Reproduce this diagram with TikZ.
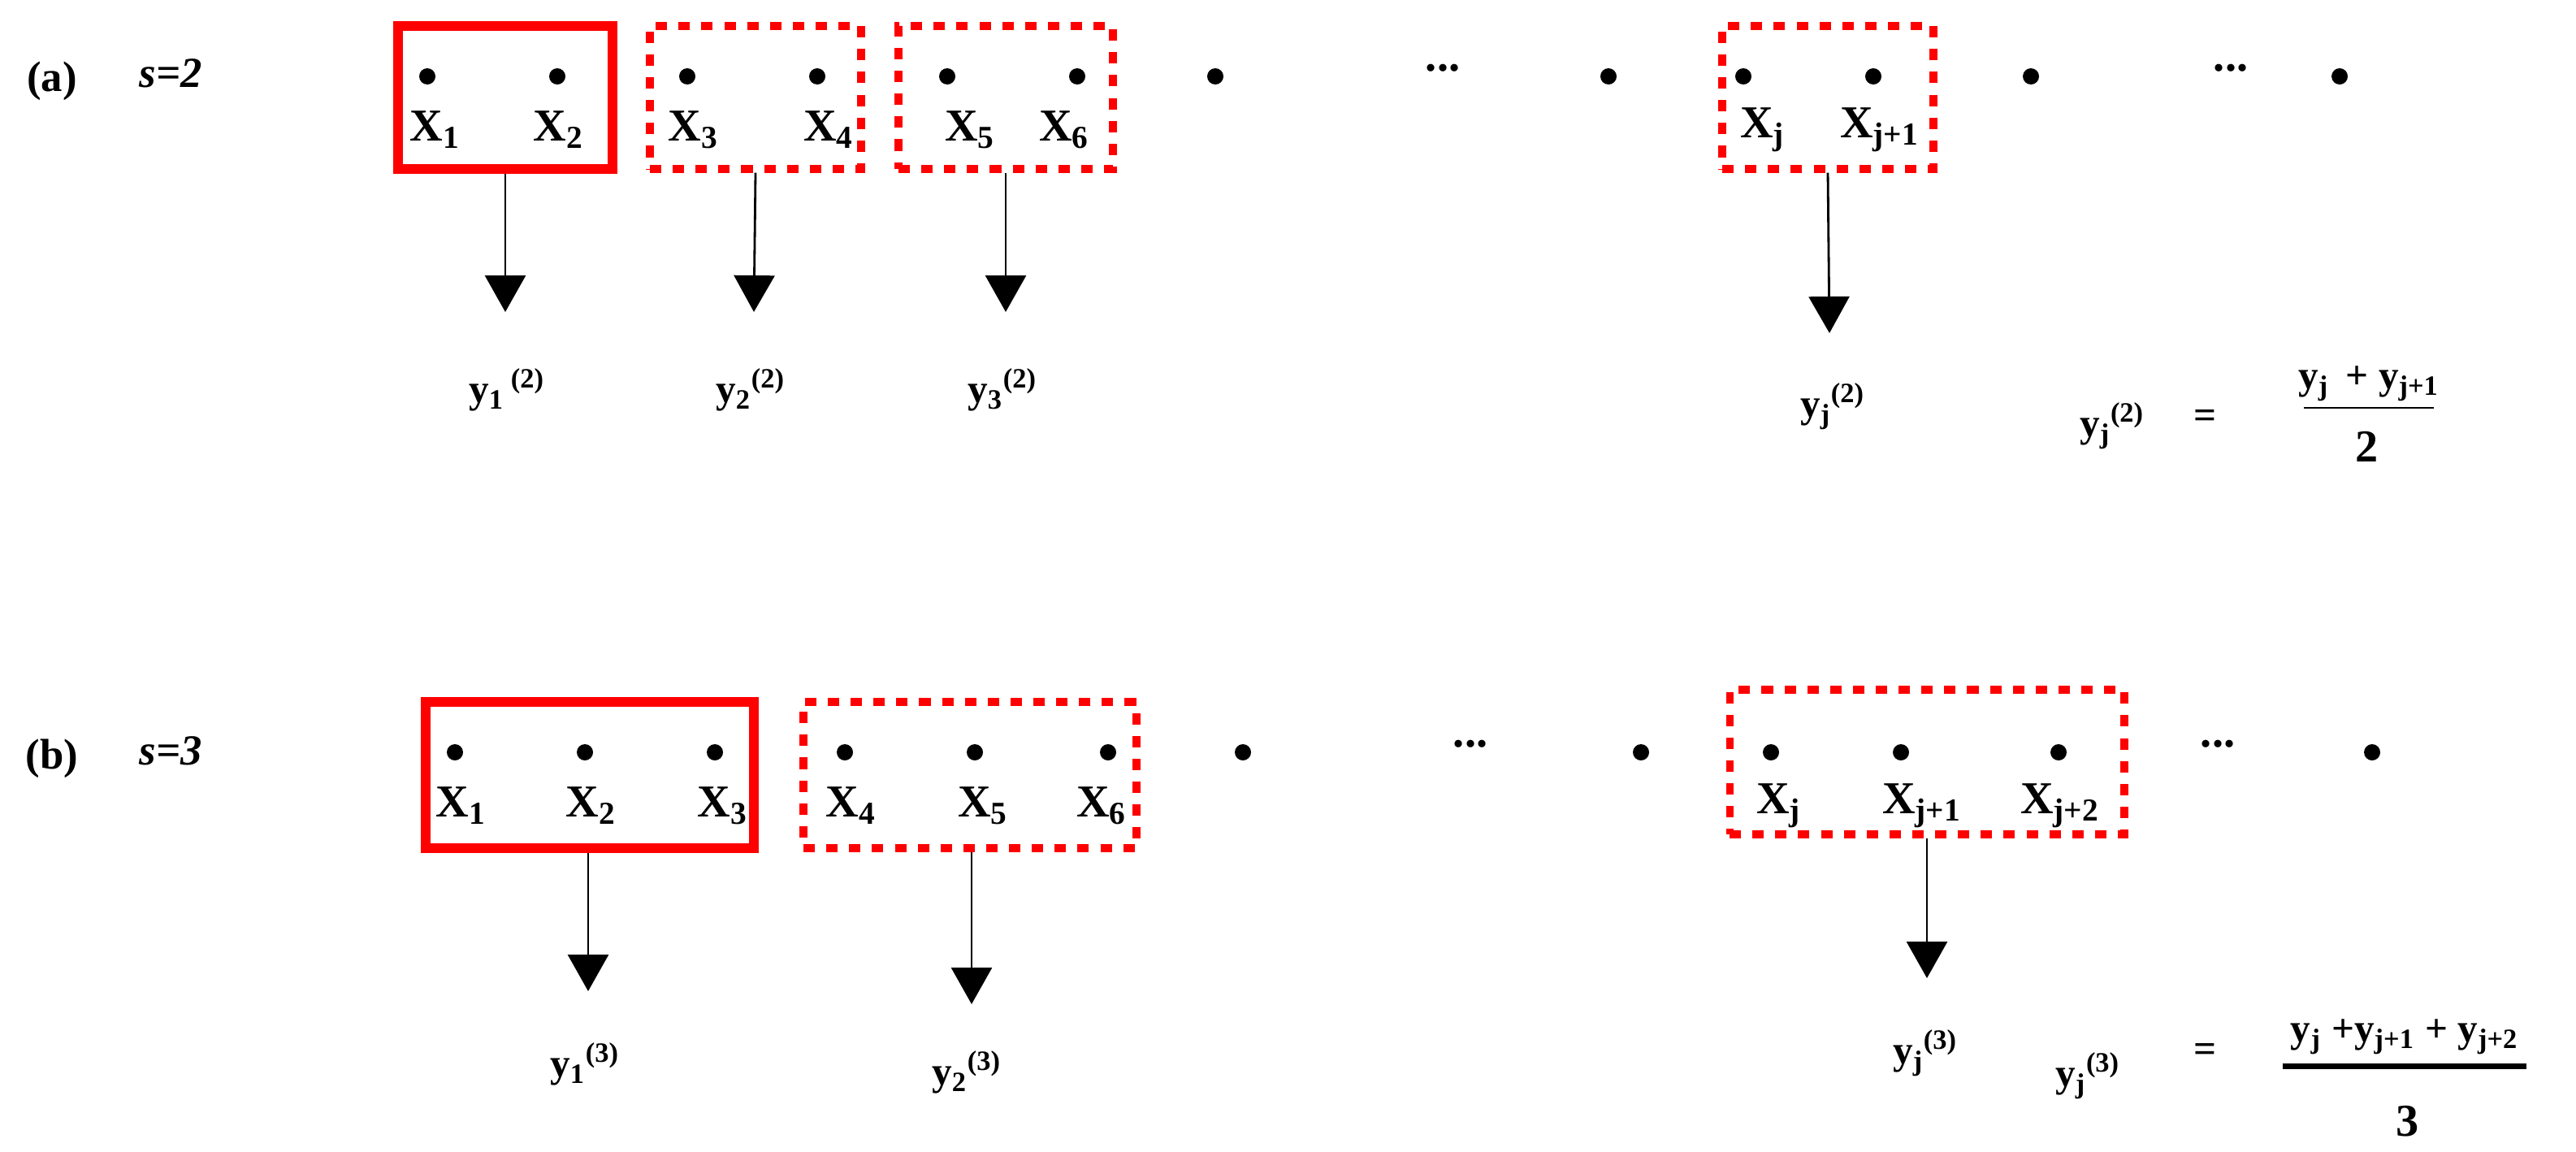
\documentclass[tikz,border=0pt]{standalone}
\usepackage{fontspec}
\setmainfont{Liberation Serif}
\usetikzlibrary{arrows.meta}
\begin{document}
\begin{tikzpicture}[x=0.02cm,y=-0.02cm,
  dot/.style={circle,fill=black,inner sep=0pt,minimum width=0.17cm,minimum height=0.2cm},
  solidbox/.style={draw=red,line width=3.2pt,inner sep=0pt},
  dashbox/.style={draw=red,line width=2.6pt,dash pattern=on 4pt off 4pt,inner sep=0pt},
  xl/.style={font=\fontsize{16}{18}\selectfont\bfseries,inner sep=0pt},
  yl/.style={font=\fontsize{14}{16}\selectfont\bfseries,inner sep=0pt},
  arr/.style={line width=0.8pt,-{Triangle[width=0.5cm,length=0.45cm]}}]
\useasboundingbox (0,0) rectangle (1585.5,708.5);
% row a
\node[yl,font=\fontsize{15}{17}\selectfont\bfseries] (la) at (32,50) {(a)};
\node[yl,font=\fontsize{15}{17}\selectfont\bfseries\itshape] (sa) at (105,45) {s=2};
\node[solidbox,minimum width=2.64cm,minimum height=1.76cm] (a1) at (311,60) {};
\node[dashbox,minimum width=2.6cm,minimum height=1.76cm] (a2) at (465,60) {};
\node[dashbox,minimum width=2.64cm,minimum height=1.76cm] (a3) at (619,60) {};
\node[dashbox,minimum width=2.6cm,minimum height=1.76cm] (aj) at (1125,60) {};
\foreach \x/\n in {263/1,343/2,423/3,503/4,583/5,663/6,748/7,990/8,1073/9,1153/10,1250/11,1440/12}
  \node[dot] (da\n) at (\x,47) {};
\node[xl] (ea1) at (888,42) {...};
\node[xl] (ea2) at (1373,42) {...};
\node[xl] (xa1) at (268,80) {X\textsubscript{1}};
\node[xl] (xa2) at (344,80) {X\textsubscript{2}};
\node[xl] (xa3) at (427,80) {X\textsubscript{3}};
\node[xl] (xa4) at (510,80) {X\textsubscript{4}};
\node[xl] (xa5) at (597,80) {X\textsubscript{5}};
\node[xl] (xa6) at (655,80) {X\textsubscript{6}};
\node[xl] (xaj) at (1085,80) {X\textsubscript{j}};
\node[xl] (xaj1) at (1157,80) {X\textsubscript{j+1}};
\coordinate (ta1) at (311,192);
\coordinate (ta2) at (464,192);
\coordinate (ta3) at (619,192);
\coordinate (taj) at (1126,205);
\draw[arr] (a1.south) -- (ta1);
\draw[arr] (a2.south) -- (ta2);
\draw[arr] (a3.south) -- (ta3);
\draw[arr] (aj.south) -- (taj);
\node[yl] (ya1) at (312,240) {y\textsubscript{1}\,\textsuperscript{(2)}};
\node[yl] (ya2) at (462,240) {y\textsubscript{2}\textsuperscript{(2)}};
\node[yl] (ya3) at (617,240) {y\textsubscript{3}\textsuperscript{(2)}};
\node[yl] (yaj) at (1128,250) {y\textsubscript{j}\textsuperscript{(2)}};
\node[yl] (fa) at (1300,262) {y\textsubscript{j}\textsuperscript{(2)}};
\node[yl] (eqa) at (1357,258) {=};
\node[yl] (na) at (1458,236) {y\textsubscript{j} \,+ y\textsubscript{j+1}};
\coordinate (bla) at (1418,251);
\coordinate (bra) at (1498,251);
\draw[line width=0.8pt] (bla) -- (bra);
\node[yl,font=\fontsize{16}{18}\selectfont\bfseries] (da) at (1457,275) {2};
% row b
\node[yl,font=\fontsize{15}{17}\selectfont\bfseries] (lb) at (32,467) {(b)};
\node[yl,font=\fontsize{15}{17}\selectfont\bfseries\itshape] (sb) at (105,462) {s=3};
\node[solidbox,minimum width=4.04cm,minimum height=1.8cm] (b1) at (363,477) {};
\node[dashbox,minimum width=4.1cm,minimum height=1.8cm] (b2) at (597,477) {};
\node[dashbox,minimum width=4.86cm,minimum height=1.78cm] (bj) at (1186,469) {};
\foreach \x/\n in {280/1,360/2,440/3,520/4,600/5,682/6,765/7,1010/8,1090/9,1170/10,1267/11,1460/12}
  \node[dot] (db\n) at (\x,463) {};
\node[xl] (eb1) at (905,458) {...};
\node[xl] (eb2) at (1365,458) {...};
\node[xl] (xb1) at (284,496) {X\textsubscript{1}};
\node[xl] (xb2) at (364,496) {X\textsubscript{2}};
\node[xl] (xb3) at (445,496) {X\textsubscript{3}};
\node[xl] (xb4) at (524,496) {X\textsubscript{4}};
\node[xl] (xb5) at (605,496) {X\textsubscript{5}};
\node[xl] (xb6) at (678,496) {X\textsubscript{6}};
\node[xl] (xbj) at (1095,496) {X\textsubscript{j}};
\node[xl] (xbj1) at (1183,496) {X\textsubscript{j+1}};
\node[xl] (xbj2) at (1268,496) {X\textsubscript{j+2}};
\coordinate (tb1) at (362,610);
\coordinate (tb2) at (598,618);
\coordinate (tbj) at (1186,602);
\draw[arr] (b1.south -| tb1) -- (tb1);
\draw[arr] (b2.south -| tb2) -- (tb2);
\draw[arr] (bj.south -| tbj) -- (tbj);
\node[yl] (yb1) at (360,655) {y\textsubscript{1}\textsuperscript{(3)}};
\node[yl] (yb2) at (595,660) {y\textsubscript{2}\textsuperscript{(3)}};
\node[yl] (ybj) at (1185,648) {y\textsubscript{j}\textsuperscript{(3)}};
\node[yl] (fb) at (1285,662) {y\textsubscript{j}\textsuperscript{(3)}};
\node[yl] (eqb) at (1357,648) {=};
\node[yl] (nb) at (1480,638) {y\textsubscript{j} +y\textsubscript{j+1} + y\textsubscript{j+2}};
\coordinate (blb) at (1405,656);
\coordinate (brb) at (1555,656);
\draw[line width=2pt] (blb) -- (brb);
\node[yl,font=\fontsize{16}{18}\selectfont\bfseries] (dbb) at (1482,690) {3};
\end{tikzpicture}
\end{document}
